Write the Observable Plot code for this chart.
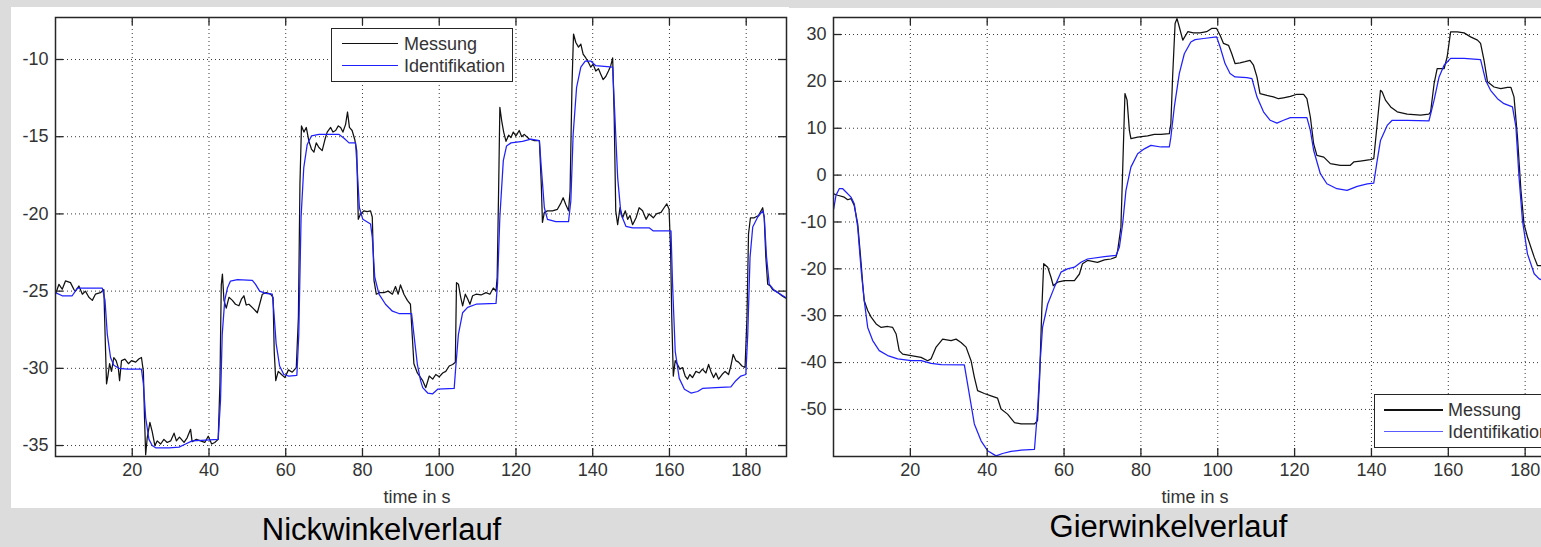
<!DOCTYPE html>
<html><head><meta charset="utf-8">
<script src="https://cdn.jsdelivr.net/npm/d3@7"></script>
<script src="https://cdn.jsdelivr.net/npm/@observablehq/plot@0.6"></script>
<style>
html,body{margin:0;padding:0;width:1541px;height:547px;overflow:hidden;background:#dcdcdc;font-family:"Liberation Sans",Arial,sans-serif;}
.abs{position:absolute;}
.panel{position:absolute;background:#fff;}
.title{position:absolute;font-size:31px;line-height:30px;color:#000;white-space:nowrap;text-align:center;width:400px;}
.leg{position:absolute;background:#fff;border:1.4px solid #262626;box-sizing:border-box;}
.legline{position:absolute;height:1.3px;}
.legtext{position:absolute;font-size:18px;line-height:18px;color:#333;white-space:nowrap;}
</style></head><body>
<div class="panel" style="left:11px;top:7px;width:778px;height:501px"></div>
<div class="panel" style="left:789px;top:8px;width:752px;height:500px"></div>
<div id="nick" class="abs" style="left:11px;top:0px;width:778px"></div>
<div id="gier" class="abs" style="left:789px;top:0px;width:796px"></div>
<div id="overlay"></div>
<script>
// ---- data ----
const xTicks = [20, 40, 60, 80, 100, 120, 140, 160, 180];
const nickYTicks = [-35, -30, -25, -20, -15, -10];
const gierYTicks = [-50, -40, -30, -20, -10, 0, 10, 20, 30];
const xLabel = "time in s";
const seriesNames = ["Messung", "Identifikation"];
const panelTitles = ["Nickwinkelverlauf", "Gierwinkelverlauf"];

const nickMessung = [[0,-25.2],[0.9,-24.56],[1.75,-24.88],[2.6,-24.34],[3.9,-24.45],[4.8,-24.9],[5.2,-25.0],[6.1,-24.67],[7.0,-25.2],[7.8,-25.0],[8.7,-25.4],[9.6,-25.6],[10.4,-25.2],[11.7,-25.1],[12.6,-24.9],[13.05,-28.9],[13.3,-31.0],[13.65,-30.5],[14.1,-29.7],[14.6,-30.2],[15.2,-29.3],[15.8,-29.5],[16.35,-29.95],[16.7,-30.8],[17.2,-29.5],[18.1,-29.4],[19.0,-29.7],[19.8,-29.5],[20.9,-29.6],[21.7,-29.4],[22.4,-29.3],[22.9,-30.2],[23.2,-33.2],[23.5,-35.6],[23.9,-34.5],[24.6,-33.5],[25.2,-34.1],[25.9,-35.0],[26.5,-34.7],[27.4,-34.9],[28.25,-34.6],[29.1,-34.8],[30.0,-34.7],[30.9,-34.2],[31.5,-34.7],[32.3,-34.45],[33.5,-34.8],[34.3,-34.5],[35.2,-33.95],[35.6,-34.75],[36.7,-34.6],[37.8,-34.7],[38.9,-34.8],[39.8,-34.4],[40.7,-34.9],[41.5,-34.8],[42.4,-34.6],[42.85,-31.0],[43.2,-24.6],[43.5,-23.9],[43.9,-25.6],[44.5,-26.1],[45.2,-25.4],[46.1,-25.6],[46.9,-25.85],[47.8,-25.95],[48.5,-25.5],[49.1,-25.3],[49.7,-25.9],[50.4,-25.85],[51.45,-26.1],[52.6,-26.4],[53.2,-25.85],[53.9,-25.2],[54.9,-25.1],[56.05,-25.2],[56.7,-25.4],[57.0,-28.9],[57.4,-30.8],[58.05,-30.2],[58.9,-30.4],[59.8,-30.6],[60.7,-30.1],[61.7,-30.25],[62.75,-29.95],[63.3,-26.7],[63.7,-18.1],[64.1,-14.3],[64.75,-14.7],[65.35,-14.4],[66.05,-15.3],[66.7,-15.8],[67.35,-16.0],[67.95,-15.4],[68.65,-15.7],[69.5,-15.9],[70.2,-15.2],[70.8,-14.7],[71.7,-14.4],[72.3,-14.7],[73.0,-14.6],[73.7,-14.3],[74.3,-14.4],[74.9,-14.7],[75.6,-14.2],[76.1,-13.4],[76.6,-14.4],[77.3,-14.6],[78.0,-15.2],[78.5,-15.9],[78.9,-20.35],[79.5,-20.0],[80.4,-19.8],[81.2,-19.85],[82.1,-19.8],[82.55,-20.2],[83.0,-24.3],[83.6,-25.2],[84.5,-25.1],[85.6,-25.1],[86.7,-25.0],[87.8,-25.2],[88.6,-24.7],[89.3,-25.2],[89.9,-24.6],[90.8,-25.2],[91.7,-25.6],[92.5,-25.85],[93.0,-28.0],[93.4,-29.7],[94.3,-30.3],[95.15,-30.6],[95.7,-30.8],[96.5,-31.25],[97.4,-30.5],[98.3,-30.7],[99.1,-30.4],[100.0,-30.55],[100.9,-30.3],[101.7,-30.2],[102.6,-29.85],[103.5,-29.75],[104.2,-29.6],[104.5,-24.45],[105.0,-24.55],[105.6,-25.4],[106.1,-25.95],[106.8,-25.2],[107.4,-25.5],[108.0,-25.85],[108.7,-25.3],[109.6,-25.2],[110.9,-25.25],[112.2,-25.1],[113.2,-25.2],[114.1,-24.8],[114.8,-25.0],[115.1,-24.1],[115.5,-18.1],[115.8,-13.1],[116.3,-14.0],[116.8,-14.7],[117.4,-15.3],[118.1,-14.9],[118.7,-15.05],[119.3,-14.7],[120.0,-14.95],[120.85,-14.6],[121.5,-15.0],[122.15,-14.85],[123.45,-15.15],[124.8,-15.25],[126.1,-15.25],[126.6,-18.1],[126.9,-20.55],[127.4,-19.9],[128.2,-19.8],[129.5,-19.8],[130.8,-19.7],[131.7,-19.3],[132.3,-18.95],[133.0,-19.4],[133.7,-19.8],[134.1,-18.5],[134.6,-11.6],[135.0,-8.35],[135.6,-8.9],[136.3,-9.2],[136.9,-9.0],[137.5,-9.65],[138.2,-9.9],[138.9,-10.2],[139.5,-10.5],[140.1,-10.3],[140.8,-10.75],[141.5,-10.6],[142.1,-10.95],[142.7,-11.3],[143.4,-11.1],[144.1,-10.75],[144.7,-10.4],[145.2,-9.9],[145.6,-13.75],[146.0,-19.8],[146.5,-20.7],[147.1,-19.6],[147.8,-20.25],[148.5,-19.8],[149.1,-20.35],[149.7,-20.1],[150.4,-20.7],[151.3,-20.25],[152.1,-19.6],[153.0,-19.8],[153.9,-20.35],[154.7,-20.0],[155.8,-20.25],[156.6,-20.0],[157.8,-19.9],[158.6,-19.6],[159.3,-19.35],[159.9,-19.7],[160.3,-22.4],[160.6,-26.7],[161.0,-30.5],[161.5,-29.5],[162.1,-29.75],[162.7,-30.05],[163.4,-29.95],[164.1,-30.5],[164.7,-30.7],[165.3,-30.4],[166.0,-30.6],[166.9,-30.2],[167.8,-30.3],[168.6,-30.05],[169.5,-30.3],[170.2,-29.75],[170.8,-30.2],[171.5,-30.6],[172.1,-30.3],[172.8,-30.7],[173.7,-30.4],[174.5,-30.2],[175.4,-30.4],[176.0,-29.85],[176.6,-29.1],[177.3,-29.5],[178.0,-29.6],[178.9,-29.85],[179.7,-29.95],[180.2,-26.7],[180.6,-21.3],[181.1,-20.25],[182.1,-20.25],[183.2,-20.1],[184.3,-19.6],[184.7,-20.25],[185.1,-22.75],[185.6,-24.55],[186.2,-24.65],[186.9,-24.9],[187.7,-25.0],[188.6,-25.15],[189.3,-25.3],[190.2,-25.45]];

const nickIdent = [[0,-25.1],[1.75,-25.3],[4.35,-25.3],[5.7,-24.8],[8.7,-24.8],[12.2,-24.8],[12.9,-25.6],[13.5,-27.8],[14.35,-29.3],[15.2,-29.8],[16.5,-30.0],[18.7,-30.05],[22.4,-30.05],[22.9,-31.0],[23.5,-33.2],[24.35,-34.6],[25.2,-35.0],[26.1,-35.15],[29.6,-35.15],[32.2,-35.1],[33.9,-34.9],[35.6,-34.7],[39.1,-34.65],[42.4,-34.6],[43.0,-32.1],[43.45,-27.8],[44.1,-25.6],[44.8,-24.8],[45.6,-24.35],[47.4,-24.25],[51.3,-24.3],[52.1,-24.55],[53.2,-25.0],[54.75,-25.15],[56.5,-25.2],[56.9,-26.3],[57.5,-28.4],[58.4,-29.85],[59.5,-30.4],[60.8,-30.5],[62.9,-30.45],[63.4,-27.8],[64.0,-20.2],[64.7,-17.0],[65.6,-15.5],[66.7,-14.95],[68.65,-14.85],[73.9,-14.85],[75.2,-15.1],[76.5,-15.4],[78.2,-15.4],[78.6,-17.0],[79.2,-19.6],[80.1,-20.35],[82.1,-20.65],[82.55,-21.5],[83.2,-24.1],[84.3,-25.2],[86.0,-25.85],[87.8,-26.3],[89.5,-26.45],[92.8,-26.45],[93.4,-27.8],[94.3,-29.75],[95.15,-30.8],[95.7,-31.25],[97.0,-31.6],[98.3,-31.65],[99.6,-31.35],[103.9,-31.3],[104.3,-29.95],[105.0,-27.8],[106.1,-26.4],[107.4,-26.05],[109.6,-25.85],[114.8,-25.8],[115.2,-24.5],[115.8,-20.2],[116.7,-16.55],[117.55,-15.6],[118.7,-15.4],[121.7,-15.3],[123.9,-15.15],[126.1,-15.25],[126.6,-17.0],[127.4,-19.6],[128.2,-20.35],[130.4,-20.5],[133.7,-20.5],[134.3,-19.15],[134.9,-14.85],[135.8,-11.8],[136.9,-10.5],[138.05,-10.1],[139.5,-10.1],[140.8,-10.4],[145.2,-10.5],[145.6,-12.7],[146.5,-17.65],[147.35,-20.0],[148.65,-20.8],[150.4,-20.9],[154.7,-20.9],[155.8,-21.1],[160.4,-21.1],[160.8,-24.5],[161.5,-28.9],[162.55,-30.65],[163.9,-31.35],[165.6,-31.6],[167.35,-31.5],[168.6,-31.3],[172.1,-31.25],[176.0,-31.2],[177.3,-30.8],[178.6,-30.5],[179.9,-30.4],[180.4,-27.8],[181.0,-22.8],[181.7,-20.85],[183.0,-20.2],[184.3,-19.8],[184.7,-20.2],[185.3,-22.8],[186.0,-24.55],[187.3,-24.95],[188.6,-25.15],[190.2,-25.4]];

const gierMessung = [[0.05,-4.0],[1.1,-4.3],[2.8,-4.7],[3.7,-5.25],[4.55,-5.0],[5.4,-6.5],[6.3,-10.4],[7.2,-18.9],[7.6,-23.2],[8.0,-26.8],[8.9,-28.9],[9.8,-30.3],[11.1,-31.75],[12.4,-32.5],[14.1,-32.3],[15.4,-32.5],[16.3,-33.9],[17.1,-37.45],[18.0,-38.2],[20.2,-38.5],[22.8,-38.9],[24.5,-39.6],[25.4,-39.2],[26.7,-36.7],[28.4,-35.0],[30.6,-35.3],[31.9,-35.0],[33.2,-35.7],[34.5,-36.7],[35.8,-39.6],[36.65,-43.1],[37.5,-46.0],[39.25,-46.6],[41.0,-47.1],[42.7,-47.6],[43.6,-49.9],[45.3,-51.0],[47.1,-52.8],[48.8,-53.1],[52.3,-53.1],[53.1,-52.4],[53.65,-43.1],[54.2,-28.9],[54.7,-18.9],[55.75,-19.65],[56.6,-21.8],[57.2,-23.6],[58.3,-22.85],[60.1,-22.5],[62.7,-22.5],[64.0,-21.1],[64.8,-18.9],[66.1,-18.2],[68.7,-18.6],[70.5,-18.1],[72.2,-17.9],[73.5,-17.5],[73.9,-16.4],[74.8,-11.1],[75.2,-0.4],[75.85,17.4],[76.4,16.0],[77.0,9.55],[77.4,7.8],[79.15,8.1],[81.75,8.35],[83.5,8.7],[85.2,8.7],[87.4,8.85],[87.8,11.0],[88.25,20.95],[88.9,32.35],[89.4,33.4],[90.0,31.6],[90.9,28.8],[92.2,30.6],[93.65,30.35],[95.4,30.35],[97.1,30.6],[98.4,31.3],[99.7,31.3],[100.6,29.85],[101.5,28.1],[102.8,27.7],[103.65,25.9],[104.5,23.8],[105.8,23.95],[107.1,24.2],[108.4,24.5],[109.3,23.45],[110.2,20.95],[111.0,17.4],[112.8,17.0],[114.5,16.7],[115.8,16.3],[117.1,16.5],[118.9,16.8],[120.6,17.25],[122.35,17.25],[123.2,16.3],[124.1,12.4],[124.95,6.7],[125.8,4.2],[127.6,3.85],[129.3,2.45],[131.9,2.1],[134.5,2.1],[135.4,2.8],[137.1,3.0],[139.7,3.3],[140.6,3.5],[141.5,11.0],[142.35,18.1],[142.8,17.75],[143.65,16.0],[145.0,14.55],[146.7,13.5],[149.3,13.0],[152.8,12.8],[154.95,13.0],[155.4,13.5],[156.3,19.5],[157.1,22.7],[158.9,22.7],[159.7,25.2],[160.6,30.55],[162.35,30.55],[164.1,30.35],[165.8,29.5],[167.6,28.8],[168.4,28.1],[169.3,24.5],[170.2,19.9],[171.9,18.8],[173.65,18.45],[175.4,18.7],[176.3,18.7],[177.1,16.7],[178.0,8.1],[178.9,-3.25],[179.7,-10.4],[180.6,-13.2],[182.35,-17.5],[183.2,-19.3],[184.3,-19.3],[187,-19.6],[190.5,-19.8]];

const gierIdent = [[0.05,-7.2],[0.65,-4.3],[1.5,-2.9],[2.4,-2.9],[3.25,-3.6],[4.55,-4.7],[5.4,-6.1],[6.3,-11.1],[7.2,-20.35],[8.0,-26.8],[8.9,-32.5],[10.2,-35.3],[11.9,-37.45],[14.1,-38.5],[16.7,-39.2],[20.2,-39.6],[22.8,-39.6],[25.4,-40.15],[28.0,-40.45],[34.05,-40.5],[34.9,-44.6],[36.65,-53.1],[38.4,-56.7],[40.1,-58.8],[42.3,-59.9],[44.0,-59.4],[46.2,-58.95],[48.8,-58.7],[52.3,-58.5],[53.1,-50.3],[53.8,-39.6],[54.4,-32.5],[55.75,-27.5],[57.5,-23.9],[59.2,-20.7],[60.9,-20.0],[62.7,-19.65],[64.4,-18.6],[66.1,-17.9],[70.5,-17.4],[73.5,-17.15],[74.4,-15.4],[75.25,-10.4],[76.1,-3.3],[77.4,1.7],[79.15,4.55],[80.9,5.6],[82.6,6.35],[85.2,6.0],[87.4,6.0],[87.8,8.1],[88.7,14.55],[90.0,21.7],[91.3,25.9],[93.0,28.4],[94.1,28.9],[96.3,29.15],[99.7,29.5],[100.6,27.4],[101.9,23.8],[103.2,21.7],[104.5,20.95],[107.6,20.8],[108.9,20.6],[110.2,16.7],[111.9,13.5],[113.65,11.7],[115.4,11.1],[117.1,11.7],[118.9,12.25],[123.2,12.25],[124.1,9.55],[124.95,5.3],[126.7,0.3],[128.4,-1.85],[131.0,-2.9],[133.65,-3.25],[136.3,-2.4],[138.9,-1.85],[140.6,-1.7],[141.5,3.15],[142.35,7.4],[144.1,10.6],[145.4,11.7],[149.3,11.7],[154.95,11.55],[156.3,16.0],[157.6,20.95],[158.9,23.45],[160.6,24.9],[164.1,24.9],[168.4,24.65],[169.7,20.25],[171.0,18.1],[172.8,16.3],[174.5,15.25],[176.7,14.55],[177.6,10.3],[178.4,-0.4],[179.3,-9.7],[180.6,-16.8],[182.35,-21.05],[183.65,-22.15],[184.3,-22.35],[187,-22.6],[190.5,-22.7]];

const xDomain = [0, 190.5];
const nickYDomain = [-35.71, -7.28];
const gierYDomain = [-60.04, 33.63];

// ---- style ----
const BLACK = "#111";
const BLUE = "#2020ff";
const FONT = '"Liberation Sans", Arial, sans-serif';

function panel({mess, ident, yDomain, yTicks, width, marginRight, labelDx}) {
  const H = 507, mT = 17, mB = 51, mL = 44;
  const fh = H - mT - mB;
  const fw = width - mL - marginRight;
  const tk = 8;
  const tickStyle = {stroke: "#262626", strokeWidth: 1.3};
  const grid = {stroke: "#3a3a3a", strokeWidth: 1, strokeDasharray: "1,3"};
  return Plot.plot({
    width, height: H, marginTop: mT, marginBottom: mB, marginLeft: mL, marginRight,
    style: {background: "transparent", fontFamily: FONT, fontSize: "18px", color: "#333", overflow: "visible", maxWidth: "none"},
    x: {domain: xDomain, ticks: xTicks, tickSize: 0, tickPadding: 7, label: null, tickFormat: d => String(d)},
    y: {domain: yDomain, ticks: yTicks, tickSize: 0, tickPadding: 7, label: null, tickFormat: d => String(d)},
    marks: [
      Plot.ruleX(xTicks, grid),
      Plot.ruleY(yTicks, grid),
      Plot.line(mess, {x: d => d[0], y: d => d[1], stroke: BLACK, strokeWidth: 1.25}),
      Plot.line(ident, {x: d => d[0], y: d => d[1], stroke: BLUE, strokeWidth: 1.25}),
      Plot.ruleX(xTicks, {...tickStyle, insetBottom: fh - tk}),
      Plot.ruleX(xTicks, {...tickStyle, insetTop: fh - tk}),
      Plot.ruleY(yTicks, {...tickStyle, insetRight: fw - tk}),
      Plot.ruleY(yTicks, {...tickStyle, insetLeft: fw - tk}),
      Plot.frame({stroke: "#262626", strokeWidth: 1.5}),
      Plot.text([xLabel], {frameAnchor: "bottom", dy: 46, dx: labelDx, lineAnchor: "bottom", fill: "#333", fontSize: 18})
    ]
  });
}

document.getElementById("nick").append(panel({
  mess: nickMessung, ident: nickIdent, yDomain: nickYDomain, yTicks: nickYTicks,
  width: 778, marginRight: 3, labelDx: -4
}));
document.getElementById("gier").append(panel({
  mess: gierMessung, ident: gierIdent, yDomain: gierYDomain, yTicks: gierYTicks,
  width: 796, marginRight: 20, labelDx: -4.5
}));

// ---- legends and titles (HTML) ----
function legend(box, lines) {
  const ov = document.getElementById("overlay");
  const b = document.createElement("div");
  b.className = "leg";
  Object.assign(b.style, {left: box.x + "px", top: box.y + "px", width: box.w + "px", height: box.h + "px"});
  ov.append(b);
  lines.forEach((ln, i) => {
    const l = document.createElement("div");
    l.className = "legline";
    Object.assign(l.style, {left: ln.x1 + "px", top: (ln.y - 0.65) + "px", width: (ln.x2 - ln.x1) + "px", background: ln.color});
    ov.append(l);
    const t = document.createElement("div");
    t.className = "legtext";
    t.textContent = seriesNames[i];
    Object.assign(t.style, {left: ln.tx + "px", top: (ln.y + 6.5 - 15.2) + "px"});
    ov.append(t);
  });
}
legend({x: 331, y: 28, w: 182, h: 54}, [
  {x1: 342, x2: 398, y: 43.3, tx: 404, color: BLACK},
  {x1: 342, x2: 398, y: 65.7, tx: 404, color: BLUE}
]);
legend({x: 1374, y: 394, w: 182, h: 54}, [
  {x1: 1384, x2: 1443, y: 410, tx: 1448, color: BLACK},
  {x1: 1384, x2: 1443, y: 431.7, tx: 1448, color: "#5a5aff"}
]);

function title(text, cx, baseline) {
  const d = document.createElement("div");
  d.className = "title";
  d.textContent = text;
  Object.assign(d.style, {left: (cx - 200) + "px", top: (baseline - 25.8) + "px"});
  document.getElementById("overlay").append(d);
}
title(panelTitles[0], 381.5, 541);
title(panelTitles[1], 1168.5, 538);
</script>
</body></html>
